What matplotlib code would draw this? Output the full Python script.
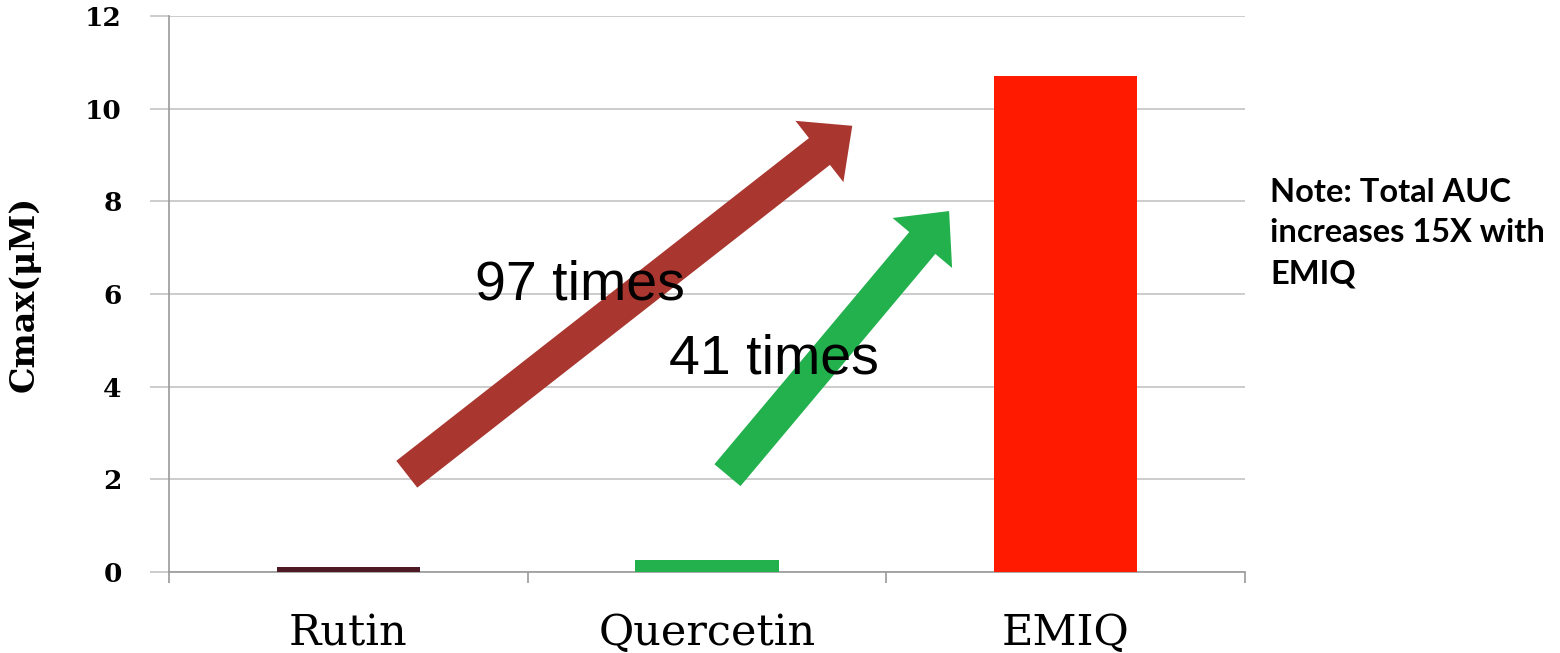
import matplotlib
matplotlib.use("Agg")
import matplotlib.pyplot as plt
from matplotlib.patches import FancyArrowPatch, ArrowStyle
from matplotlib.ticker import FixedLocator

# Peak plasma concentration by formulation
categories = ["Rutin", "Quercetin", "EMIQ"]
cmax_values = [0.11, 0.26, 10.7]
bar_colors = ["#4d1a24", "#22b14c", "#ff1a00"]
y_ticks = [0, 2, 4, 6, 8, 10, 12]

# Fold-increase annotations
fold_labels = ["97 times", "41 times"]
fold_arrows = [((0.163, 2.11), (1.405, 9.63)), ((1.057, 2.09), (1.675, 7.79))]
fold_text_pos = [(0.645, 6.19), (1.187, 4.58)]
fold_colors = ["#a9372f", "#22b14c"]

note_text = "Note: Total AUC\nincreases 15X with\nEMIQ"

W, H, DPI = 1560, 653, 100
fig = plt.figure(figsize=(W / DPI, H / DPI), dpi=DPI)
fig.patch.set_facecolor("white")
ax = fig.add_axes([169 / W, (H - 572) / H, (1245 - 169) / W, (572 - 16) / H])

x = list(range(len(categories)))
ax.bar(x, cmax_values, width=0.40, color=bar_colors, zorder=3)

ax.set_xlim(-0.5, len(categories) - 0.5)
ax.set_ylim(0, 12)

grid_c = "#c4c4c4"
axis_c = "#9a9a9a"
ax.set_yticks(y_ticks)
ax.set_yticklabels([str(v) for v in y_ticks], family="DejaVu Serif",
                   fontweight="bold", fontsize=19)
ax.yaxis.grid(True, color=grid_c, linewidth=1.2, zorder=0)
ax.tick_params(axis="y", length=14, width=1.2, color=grid_c, pad=20)

ax.set_xticks(x)
ax.set_xticklabels(categories, family="DejaVu Serif", fontsize=31)
ax.xaxis.set_minor_locator(FixedLocator([-0.5, 0.5, 1.5, 2.5]))
ax.tick_params(axis="x", which="major", length=0, pad=29)
ax.tick_params(axis="x", which="minor", length=8, width=1.2, color=axis_c)

for side in ("top", "right"):
    ax.spines[side].set_visible(False)
ax.spines["left"].set_color(axis_c)
ax.spines["bottom"].set_color(axis_c)
ax.spines["left"].set_linewidth(1.2)
ax.spines["bottom"].set_linewidth(1.2)

ax.set_ylabel("Cmax(\u03bcM)", family="DejaVu Serif", fontsize=24,
              fontweight="bold")
ax.yaxis.set_label_coords((41 - 169) / (1245 - 169), 0.5)

style = ArrowStyle.Simple(head_length=30, head_width=56, tail_width=24.5)
for (start, end), col in zip(fold_arrows, fold_colors):
    arr = FancyArrowPatch(start, end, arrowstyle=style, mutation_scale=1,
                          color=col, shrinkA=0, shrinkB=0, zorder=4,
                          linewidth=0)
    ax.add_patch(arr)

for label, (tx, ty) in zip(fold_labels, fold_text_pos):
    ax.text(tx, ty, label, ha="center", va="center", fontsize=40,
            family="Liberation Sans", color="black", zorder=5)

fig.text(1270 / W, (H - 233) / H, note_text, ha="left", va="center",
         family="Lato", fontweight="bold", fontsize=23.5, linespacing=1.5)

fig.savefig("out.png", dpi=DPI, facecolor="white")
